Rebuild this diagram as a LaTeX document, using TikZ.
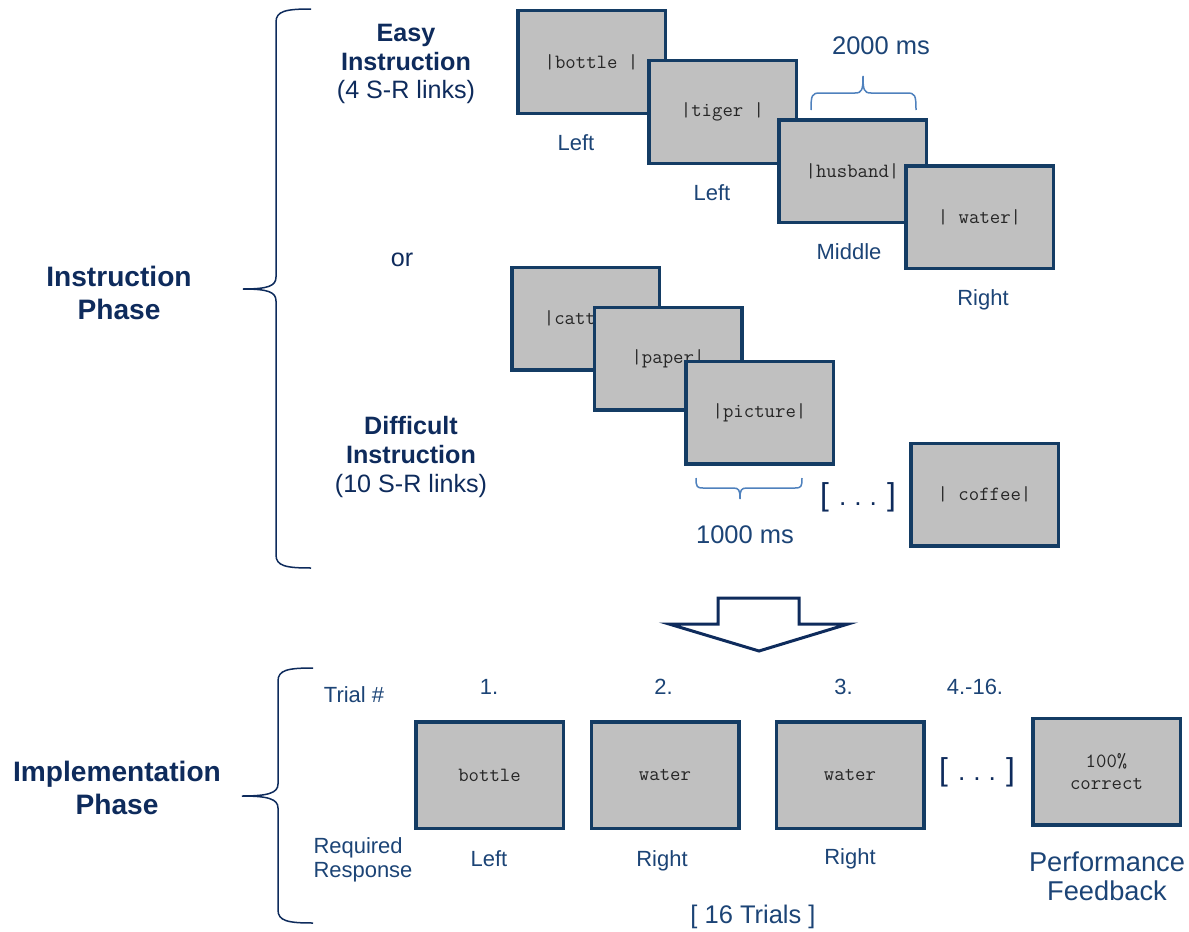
\documentclass[tikz,border=0pt]{standalone}
\usepackage{fontspec}
\setmainfont{Liberation Sans}
\usetikzlibrary{positioning}

\definecolor{navy}{RGB}{14,43,92}
\definecolor{labelblue}{RGB}{28,68,118}
\definecolor{framecol}{RGB}{20,60,100}
\definecolor{screengray}{RGB}{192,192,192}
\definecolor{bracelight}{RGB}{79,129,189}

\tikzset{
  screen/.style={draw=framecol, fill=screengray, line width=0.7mm,
    minimum width=29.5mm, minimum height=20.5mm, inner sep=0pt,
    text=black!85, font=\ttfamily\fontsize{11.5}{13}\selectfont, align=center},
  probe/.style={screen, minimum height=21.3mm},
  phase/.style={text=navy, font=\bfseries\fontsize{16}{18.7}\selectfont, align=center},
  cond/.style={text=navy, font=\fontsize{14.3}{16.4}\selectfont, align=center},
  resp/.style={text=labelblue, font=\fontsize{12.5}{13.6}\selectfont, align=center},
  timing/.style={text=labelblue, font=\fontsize{14.5}{16}\selectfont},
  gap/.style={text=navy, font=\fontsize{18}{20}\selectfont},
  bigbrace/.style={draw=navy, line width=0.3mm},
  tbrace/.style={draw=bracelight, line width=0.3mm},
}
\newcommand{\skipdots}{[\hspace{0.32em}{\fontsize{15}{16}\selectfont.\hspace{0.3em}.\hspace{0.3em}.}\hspace{0.32em}]}

\begin{document}
\begin{tikzpicture}[x=0.2mm, y=-0.2mm]
  \useasboundingbox (0,0) rectangle (1189,932);

  % instruction phase
  \node[phase] (instr) at (119,293) {Instruction\\Phase};
  \draw[bigbrace] (311,9) .. controls (286,9) and (276,11) .. (276,22) -- (276,277)
    .. controls (276,286) and (268,289) .. (243,289)
    .. controls (268,289) and (276,292) .. (276,301) -- (276,555)
    .. controls (276,566) and (286,568) .. (311,568);

  \node[cond] (easy) at (406,64) {\textbf{Easy}\\\textbf{Instruction}\\(4 S-R links)};
  \node[cond] (or) at (402,260) {or};
  \node[cond] (hard) at (411,457) {\textbf{Difficult}\\\textbf{Instruction}\\(10 S-R links)};

  % easy list
  \node[screen] (e1) at (591.5,62) {|bottle |};
  \node[screen] (e2) at (722.5,112) {|tiger |};
  \node[screen] (e3) at (852.5,171) {|husband|};
  \node[screen] (e4) at (979.5,217) {| water|};
  \node[resp] (r1) at (576,143) {Left};
  \node[resp] (r2) at (712,193) {Left};
  \node[resp] (r3) at (849,252) {Middle};
  \node[resp] (r4) at (983,300) {Right};

  \draw[tbrace] (811,110) .. controls (811,95) and (812,93) .. (820,93) -- (855,93)
    .. controls (862,93) and (863,90) .. (863,76)
    .. controls (863,90) and (864,93) .. (871,93) -- (907,93)
    .. controls (915,93) and (916,95) .. (916,110);
  \node[timing] (t2000) at (881,46) {2000 ms};

  % difficult list
  \node[screen] (d1) at (585.5,318.5) {|cattle|};
  \node[screen] (d2) at (668,358.5) {|paper|};
  \node[screen] (d3) at (759.5,412.5) {|picture|};
  \node[gap] (dgap) at (858,497) {\skipdots};
  \node[screen] (d10) at (984.5,494.5) {| coffee|};

  \draw[tbrace] (696,478) .. controls (696,487) and (697,488) .. (703,488) -- (733,488)
    .. controls (739,488) and (740,490) .. (740,499)
    .. controls (740,490) and (741,488) .. (747,488) -- (795,488)
    .. controls (801,488) and (802,487) .. (802,478);
  \node[timing] (t1000) at (745,535) {1000 ms};

  % arrow to next phase
  \draw[draw=navy, fill=white, line width=0.6mm, line join=miter]
    (718,598) -- (799,598) -- (799,624) -- (848,624) -- (759,651)
    -- (669,624) -- (718,624) -- cycle;

  % implementation phase
  \node[phase] (impl) at (117,788) {Implementation\\Phase};
  \draw[bigbrace] (313,668) .. controls (288,668) and (278,670) .. (278,681) -- (278,784)
    .. controls (278,793) and (268,796) .. (242,796)
    .. controls (268,796) and (278,799) .. (278,808) -- (278,910)
    .. controls (278,921) and (288,923) .. (313,923);

  \node[resp] (trial) at (354,695) {Trial \#};
  \node[resp, align=left] (req) at (363,860) {Required\\Response};

  \node[resp] (n1) at (489,687) {1.};
  \node[resp] (n2) at (663.5,687) {2.};
  \node[resp] (n3) at (843.5,687) {3.};
  \node[resp] (n4) at (975,687) {4.-16.};

  \node[probe] (p1) at (489.5,775) {bottle};
  \node[probe] (p2) at (665,775) {water};
  \node[probe] (p3) at (850,775) {water};
  \node[gap] (pgap) at (977,772) {\skipdots};
  \node[probe] (fb) at (1106.5,771.5) {100\%\\correct};

  \node[resp] (a1) at (489,859) {Left};
  \node[resp] (a2) at (662,861) {Right};
  \node[resp] (a3) at (850,859) {Right};
  \node[timing, align=center, font=\fontsize{15.5}{16.5}\selectfont] (perf) at (1107,876) {Performance\\Feedback};
  \node[timing] (count) at (753,917) {[ 16 Trials ]};
\end{tikzpicture}
\end{document}
